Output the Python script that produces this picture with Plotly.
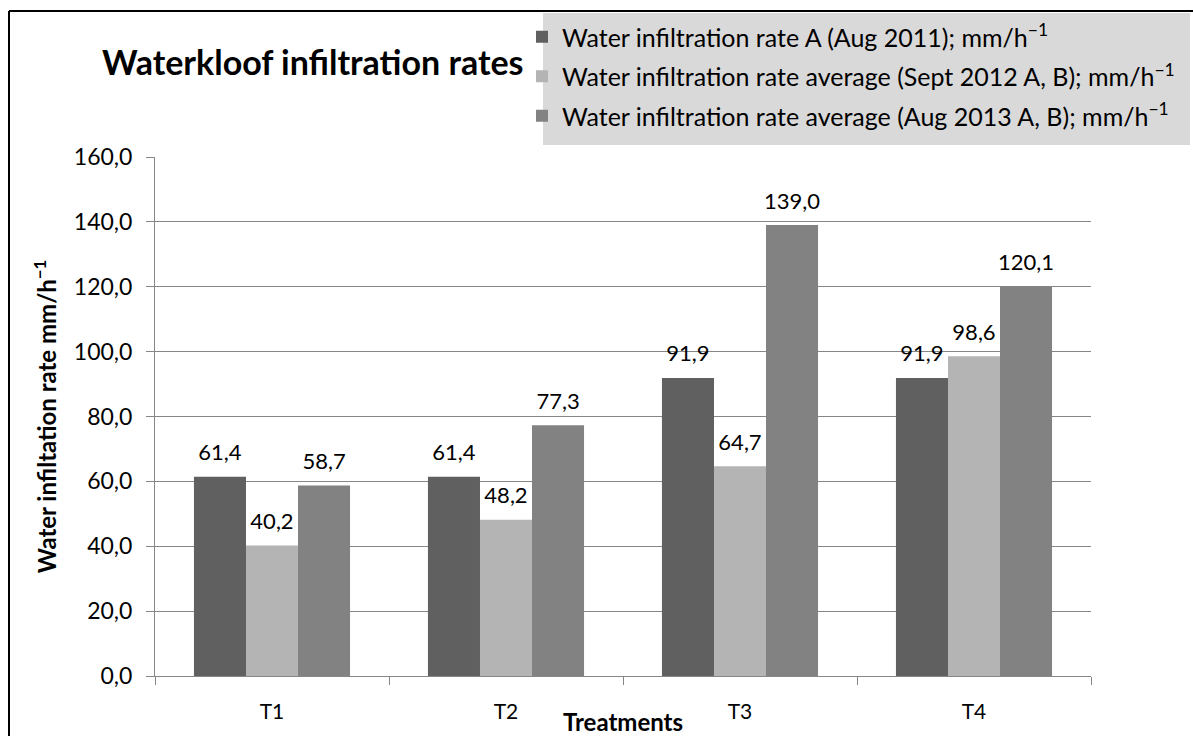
import plotly.graph_objects as go

# Treatments and infiltration rates (mm/h^-1)
treatments = ["T1", "T2", "T3", "T4"]
rate_aug_2011 = [61.4, 61.4, 91.9, 91.9]
rate_sept_2012 = [40.2, 48.2, 64.7, 98.6]
rate_aug_2013 = [58.7, 77.3, 139.0, 120.1]

series_names = [
    "Water infiltration rate A (Aug 2011); mm/h<sup>−1</sup>",
    "Water infiltration rate average (Sept 2012 A, B); mm/h<sup>−1</sup>",
    "Water infiltration rate average (Aug 2013 A, B); mm/h<sup>−1</sup>",
]
series_values = [rate_aug_2011, rate_sept_2012, rate_aug_2013]
series_colors = ["#606060", "#b4b4b4", "#828282"]

y_ticks = [0, 20, 40, 60, 80, 100, 120, 140, 160]

FONT = "Lato, 'Open Sans', sans-serif"
W, H = 1193, 736
L, R, T, B = 155, 102, 157, 60
PW = W - L - R
PH = H - T - B


def px_x(x):
    return (x - L) / PW


def px_y(y):
    return 1 - (y - T) / PH


fig = go.Figure()
for i, (name, vals, col) in enumerate(zip(series_names, series_values, series_colors)):
    fig.add_trace(go.Bar(
        x=treatments, y=vals, name=name,
        marker=dict(color=col, line=dict(width=0)),
        offsetgroup=str(i),
        legendgroup=f"g{i}",
    ))
# value labels sitting above each bar
for i, vals in enumerate(series_values):
    fig.add_trace(go.Scatter(
        x=treatments, y=vals, mode="markers+text",
        marker=dict(size=16, opacity=0),
        text=vals, texttemplate="%{y:.1f}", textposition="top center",
        textfont=dict(size=22, color="#000000", family=FONT),
        offsetgroup=str(i), showlegend=False, hoverinfo="skip",
        cliponaxis=False,
    ))

fig.update_layout(
    width=W, height=H,
    margin=dict(l=L, r=R, t=T, b=B),
    paper_bgcolor="white", plot_bgcolor="white",
    separators=",.",
    barmode="group", bargap=0.333, bargroupgap=0,
    scattermode="group", scattergap=0.333,
    font=dict(family=FONT, color="#000000"),
    showlegend=True,
    legend=dict(
        x=px_x(522), y=px_y(14), xanchor="left", yanchor="top",
        bgcolor="rgba(0,0,0,0)", borderwidth=0,
        font=dict(size=25, family=FONT, color="#000000"),
        traceorder="grouped", tracegroupgap=4,
    ),
    xaxis=dict(
        showline=True, linecolor="#868686", linewidth=1,
        ticks="outside", tickson="boundaries", ticklen=8, tickcolor="#868686",
        tickfont=dict(size=21, family=FONT),
        ticklabelstandoff=17,
        showgrid=False,
    ),
    yaxis=dict(
        range=[0, 160], tickvals=y_ticks, tickformat=".1f",
        showline=True, linecolor="#868686", linewidth=1,
        ticks="outside", ticklen=8, tickcolor="#868686",
        tickfont=dict(size=23, family=FONT),
        ticklabelstandoff=9,
        showgrid=True, gridcolor="#868686", gridwidth=1,
        zeroline=False,
        title=dict(text="<b>Water infiltation rate mm/h<sup>−1</sup></b>",
                   font=dict(size=24, family=FONT), standoff=10),
    ),
    shapes=[
        # legend background panel
        dict(type="rect", xref="paper", yref="paper",
             x0=px_x(543), x1=px_x(1190), y0=px_y(13), y1=px_y(145),
             fillcolor="#d9d9d9", line=dict(width=0), layer="below"),
        # chart frame
        dict(type="line", xref="paper", yref="paper",
             x0=px_x(9), x1=px_x(1200), y0=px_y(11), y1=px_y(11),
             line=dict(color="#000000", width=2)),
        dict(type="line", xref="paper", yref="paper",
             x0=px_x(9), x1=px_x(9), y0=px_y(11), y1=px_y(745),
             line=dict(color="#000000", width=2)),
    ],
    annotations=[
        dict(text="<b>Waterkloof infiltration rates</b>", xref="paper", yref="paper",
             x=px_x(313), y=px_y(62), xanchor="center", yanchor="middle",
             showarrow=False, font=dict(size=34, family=FONT, color="#000000")),
        dict(text="<b>Treatments</b>", xref="paper", yref="paper",
             x=0.5, y=px_y(721), xanchor="center", yanchor="middle",
             showarrow=False, font=dict(size=24, family=FONT, color="#000000")),
    ],
)

fig.write_html("out.html")
